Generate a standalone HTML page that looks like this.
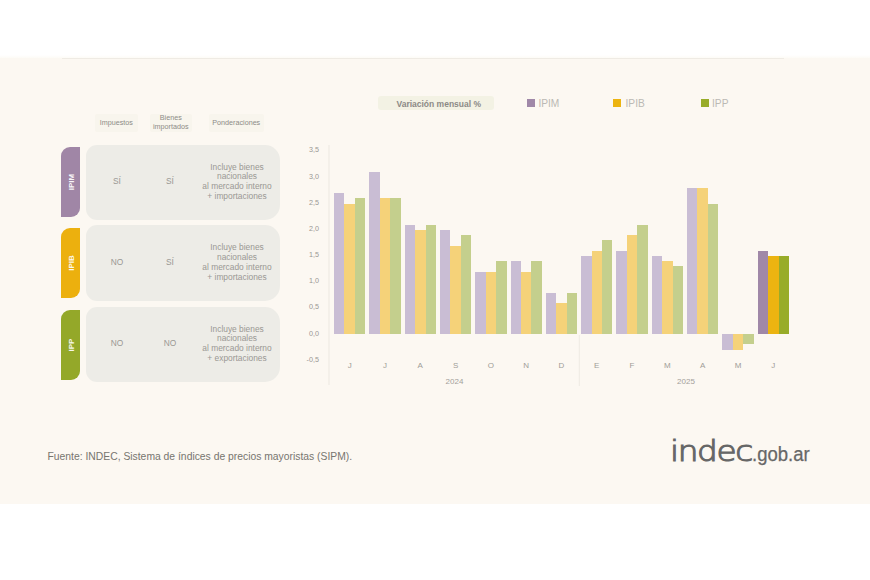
<!DOCTYPE html>
<html lang="es"><head><meta charset="utf-8"><title>INDEC SIPM</title>
<style>
*{margin:0;padding:0;box-sizing:border-box}
html,body{width:870px;height:580px;overflow:hidden;background:#fff;font-family:"Liberation Sans",Arial,sans-serif}
.band{position:absolute;left:0;top:58px;width:870px;height:446px;background:#fcf8f2}
.fade{position:absolute;left:0;top:55px;width:870px;height:3px;background:linear-gradient(#fff,#fdfbf6)}
.chart{position:absolute;left:0;top:0}
.chart text{font-family:"Liberation Sans",sans-serif}
.chart .y{font-size:7.2px;fill:#9a9792;text-anchor:end}
.chart .m{font-size:8px;fill:#a09d98;text-anchor:middle}
.chart .yr{font-size:8px;fill:#a3a09b;text-anchor:middle}
.hdr{position:absolute;top:113.7px;height:18px;display:flex;align-items:center;justify-content:center;font-size:7.2px;line-height:8.3px;color:#8d8b87;text-align:center;background:#f8f5ed;border-radius:2px}
.tab{position:absolute;left:61.3px;width:18.6px;height:69.5px;border-radius:9px 0 9px 0}
.tab span{position:absolute;left:50%;top:50%;transform:translate(-50%,-50%) rotate(-90deg);color:#fff;font-weight:bold;font-size:8px;white-space:nowrap;opacity:.92}
.rowbox{position:absolute;left:86px;width:193.5px;height:75.5px;background:#edece7;border-radius:11px 15px 15px 11px}
.cell{position:absolute;height:75.5px;display:flex;align-items:center;justify-content:center;text-align:center;color:#9a9894;font-size:8.4px;line-height:9.8px}
.c1{left:96px;width:42px}
.c2{left:149px;width:42px}
.c3{left:196px;width:82px}
.legend{position:absolute;top:97px;height:14px;font-size:10.2px;line-height:14px;color:#bbb9b4}
.pill{position:absolute;left:378px;top:96px;width:116px;height:14px;background:#f3f2e4;border-radius:3px;color:#8c8a86;font-weight:bold;font-size:8.5px;line-height:14px;text-align:center;padding-left:5.5px;padding-top:.7px}
.sq{position:absolute;top:98.5px;width:8px;height:8px}
.src{position:absolute;left:47.5px;top:449.6px;font-size:10.35px;line-height:13px;color:#77756f}
.logo{position:absolute;left:670px;top:435px;color:#676767;white-space:nowrap;line-height:40px;height:40px;width:150px}
.logo .a{position:absolute;left:0;top:-2.6px;font-family:"DejaVu Sans",sans-serif;font-weight:200;font-size:28px;letter-spacing:-1.2px;-webkit-text-stroke:1.05px #676767;transform:scaleX(1.17);transform-origin:0 0}
.logo .b{position:absolute;left:82px;top:-1px;font-size:19.5px;-webkit-text-stroke:0.25px #676767;transform:scaleX(.95);transform-origin:0 0}
</style></head><body>
<div class="fade"></div><div class="band"></div><div style="position:absolute;left:62px;top:58px;width:722px;height:1px;background:#efebe4"></div>
<div class="pill">Variación mensual %</div>
<div class="sq" style="left:527px;background:#a088a8"></div><div class="legend" style="left:538.4px">IPIM</div>
<div class="sq" style="left:613.3px;background:#ecb411"></div><div class="legend" style="left:625.5px">IPIB</div>
<div class="sq" style="left:701.3px;background:#98ac29"></div><div class="legend" style="left:712px">IPP</div>
<div class="hdr" style="left:95px;width:42.5px">Impuestos</div>
<div class="hdr" style="left:149.5px;width:42.5px">Bienes<br>importados</div>
<div class="hdr" style="left:208.5px;width:55.5px">Ponderaciones</div>

<div class="tab" style="top:147px;background:#a086a6"><span>IPIM</span></div>
<div class="rowbox" style="top:144.5px"></div>
<div class="cell c1" style="top:144.5px">SÍ</div>
<div class="cell c2" style="top:144.5px">SÍ</div>
<div class="cell c3" style="top:144.5px">Incluye bienes<br>nacionales<br>al mercado interno<br>+ importaciones</div>


<div class="tab" style="top:228px;background:#ecb00e"><span>IPIB</span></div>
<div class="rowbox" style="top:225px"></div>
<div class="cell c1" style="top:225px">NO</div>
<div class="cell c2" style="top:225px">SÍ</div>
<div class="cell c3" style="top:225px">Incluye bienes<br>nacionales<br>al mercado interno<br>+ importaciones</div>


<div class="tab" style="top:310px;background:#94a829"><span>IPP</span></div>
<div class="rowbox" style="top:306.5px"></div>
<div class="cell c1" style="top:306.5px">NO</div>
<div class="cell c2" style="top:306.5px">NO</div>
<div class="cell c3" style="top:306.5px">Incluye bienes<br>nacionales<br>al mercado interno<br>+ exportaciones</div>

<svg class="chart" width="870" height="580" viewBox="0 0 870 580">
<line x1="329" y1="145" x2="329" y2="385" stroke="#ece8e1" stroke-width="1"/>
<line x1="579.3" y1="335" x2="579.3" y2="386" stroke="#eeeae3" stroke-width="1"/>
<g shape-rendering="crispEdges"><rect x="334.00" y="193.14" width="10.47" height="141.26" fill="#c9bdd4"/><rect x="344.45" y="203.60" width="10.47" height="130.80" fill="#f5d279"/><rect x="354.90" y="198.37" width="10.47" height="136.03" fill="#c4cf8d"/><rect x="369.30" y="172.21" width="10.47" height="162.19" fill="#c9bdd4"/><rect x="379.75" y="198.37" width="10.47" height="136.03" fill="#f5d279"/><rect x="390.20" y="198.37" width="10.47" height="136.03" fill="#c4cf8d"/><rect x="404.60" y="224.53" width="10.47" height="109.87" fill="#c9bdd4"/><rect x="415.05" y="229.76" width="10.47" height="104.64" fill="#f5d279"/><rect x="425.50" y="224.53" width="10.47" height="109.87" fill="#c4cf8d"/><rect x="439.90" y="229.76" width="10.47" height="104.64" fill="#c9bdd4"/><rect x="450.35" y="246.24" width="10.47" height="88.16" fill="#f5d279"/><rect x="460.80" y="234.99" width="10.47" height="99.41" fill="#c4cf8d"/><rect x="475.20" y="271.62" width="10.47" height="62.78" fill="#c9bdd4"/><rect x="485.65" y="271.62" width="10.47" height="62.78" fill="#f5d279"/><rect x="496.10" y="261.15" width="10.47" height="73.25" fill="#c4cf8d"/><rect x="510.50" y="261.15" width="10.47" height="73.25" fill="#c9bdd4"/><rect x="520.95" y="271.62" width="10.47" height="62.78" fill="#f5d279"/><rect x="531.40" y="261.15" width="10.47" height="73.25" fill="#c4cf8d"/><rect x="545.80" y="292.54" width="10.47" height="41.86" fill="#c9bdd4"/><rect x="556.25" y="303.01" width="10.47" height="31.39" fill="#f5d279"/><rect x="566.70" y="292.54" width="10.47" height="41.86" fill="#c4cf8d"/><rect x="581.10" y="255.92" width="10.47" height="78.48" fill="#c9bdd4"/><rect x="591.55" y="250.69" width="10.47" height="83.71" fill="#f5d279"/><rect x="602.00" y="240.22" width="10.47" height="94.18" fill="#c4cf8d"/><rect x="616.40" y="250.69" width="10.47" height="83.71" fill="#c9bdd4"/><rect x="626.85" y="234.99" width="10.47" height="99.41" fill="#f5d279"/><rect x="637.30" y="224.53" width="10.47" height="109.87" fill="#c4cf8d"/><rect x="651.70" y="255.92" width="10.47" height="78.48" fill="#c9bdd4"/><rect x="662.15" y="261.15" width="10.47" height="73.25" fill="#f5d279"/><rect x="672.60" y="266.38" width="10.47" height="68.02" fill="#c4cf8d"/><rect x="687.00" y="187.90" width="10.47" height="146.50" fill="#c9bdd4"/><rect x="697.45" y="187.90" width="10.47" height="146.50" fill="#f5d279"/><rect x="707.90" y="203.60" width="10.47" height="130.80" fill="#c4cf8d"/><rect x="722.30" y="334.40" width="10.47" height="15.70" fill="#c9bdd4"/><rect x="732.75" y="334.40" width="10.47" height="15.70" fill="#f5d279"/><rect x="743.20" y="334.40" width="10.47" height="9.94" fill="#c4cf8d"/><rect x="757.60" y="250.69" width="10.47" height="83.71" fill="#a088a8"/><rect x="768.05" y="255.92" width="10.47" height="78.48" fill="#ecb411"/><rect x="778.50" y="255.92" width="10.47" height="78.48" fill="#98ac29"/></g>
<text x="319" y="152.38" class="y">3,5</text><text x="319" y="178.54" class="y">3,0</text><text x="319" y="204.70" class="y">2,5</text><text x="319" y="230.86" class="y">2,0</text><text x="319" y="257.02" class="y">1,5</text><text x="319" y="283.18" class="y">1,0</text><text x="319" y="309.34" class="y">0,5</text><text x="319" y="335.50" class="y">0,0</text><text x="319" y="361.66" class="y">-0,5</text>
<text x="349.68" y="367.8" class="m">J</text><text x="384.98" y="367.8" class="m">J</text><text x="420.28" y="367.8" class="m">A</text><text x="455.57" y="367.8" class="m">S</text><text x="490.88" y="367.8" class="m">O</text><text x="526.17" y="367.8" class="m">N</text><text x="561.47" y="367.8" class="m">D</text><text x="596.77" y="367.8" class="m">E</text><text x="632.07" y="367.8" class="m">F</text><text x="667.38" y="367.8" class="m">M</text><text x="702.67" y="367.8" class="m">A</text><text x="737.97" y="367.8" class="m">M</text><text x="773.27" y="367.8" class="m">J</text>
<text x="454.5" y="383.6" class="yr">2024</text>
<text x="686" y="383.6" class="yr">2025</text>
</svg>
<div class="src">Fuente: INDEC, Sistema de índices de precios mayoristas (SIPM).</div>
<div class="logo"><span class="a">indec</span><span class="b">.gob.ar</span></div>
</body></html>
